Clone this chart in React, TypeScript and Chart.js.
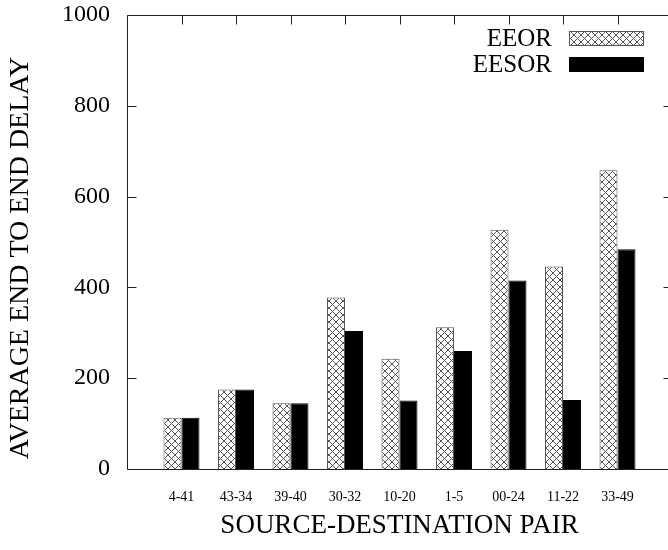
import React, { useEffect, useRef } from "react";
import { Chart, registerables } from "chart.js";

Chart.register(...registerables);

const categories = ["4-41", "43-34", "39-40", "30-32", "10-20", "1-5", "00-24", "11-22", "33-49"];
const eeorValues = [113, 175, 145, 378, 243, 312, 527, 446, 658];
const eesorValues = [113, 175, 145, 304, 151, 260, 415, 152, 484];
const yTicks = [0, 200, 400, 600, 800, 1000];
const seriesNames = ["EEOR", "EESOR"];
const yTitle = "AVERAGE END TO END DELAY";
const xTitle = "SOURCE-DESTINATION PAIR";

const SERIF = "'Liberation Serif', 'DejaVu Serif', serif";

function makeHatch(): CanvasPattern | string {
  const n = 7;
  const c = document.createElement("canvas");
  c.width = n;
  c.height = n;
  const g = c.getContext("2d");
  if (!g) return "#ccc";
  g.fillStyle = "#ffffff";
  g.fillRect(0, 0, n, n);
  g.fillStyle = "#555555";
  for (let i = 0; i < n; i++) {
    g.fillRect(i, i, 1, 1);
    g.fillRect(n - 1 - i, i, 1, 1);
  }
  const p = g.createPattern(c, "repeat");
  return p || "#ccc";
}

export default function App() {
  const ref = useRef<HTMLCanvasElement | null>(null);

  useEffect(() => {
    if (!ref.current) return;
    const hatch = makeHatch();
    const padded = ["", ...categories, ""];
    const pad = (arr: number[]) => [null, ...arr, null];

    const framePlugin = {
      id: "frame",
      afterDatasetsDraw(chart: any) {
        const { ctx, chartArea } = chart;
        const { left, right, top, bottom } = chartArea;
        const ys = chart.scales.y;
        const xs = chart.scales.x;
        ctx.save();
        ctx.strokeStyle = "#222";
        ctx.lineWidth = 1;
        ctx.beginPath();
        const L = Math.round(left) + 0.5;
        const R = Math.round(right) + 0.5;
        const T = Math.round(top) + 0.5;
        const B = Math.round(bottom) + 0.5;
        ctx.rect(L, T, R - L, B - T);
        const tl = 9;
        yTicks.forEach((v) => {
          const y = Math.round(ys.getPixelForValue(v)) + 0.5;
          ctx.moveTo(L, y);
          ctx.lineTo(L + tl, y);
          ctx.moveTo(R, y);
          ctx.lineTo(R - tl, y);
        });
        categories.forEach((_, i) => {
          const x = Math.round(xs.getPixelForValue(i + 1)) + 0.5;
          ctx.moveTo(x, T);
          ctx.lineTo(x, T + tl);
        });
        ctx.stroke();
        ctx.restore();
      },
      afterDraw(chart: any) {
        const { ctx, chartArea } = chart;
        const { right, top, bottom } = chartArea;
        ctx.save();
        // y axis title
        ctx.font = `28px ${SERIF}`;
        ctx.fillStyle = "#000";
        ctx.textAlign = "center";
        ctx.textBaseline = "middle";
        ctx.translate(21, (top + bottom) / 2 + 16);
        ctx.rotate(-Math.PI / 2);
        ctx.fillText(yTitle, 0, 0);
        ctx.restore();

        ctx.save();
        ctx.font = `25px ${SERIF}`;
        ctx.fillStyle = "#000";
        ctx.textAlign = "right";
        ctx.textBaseline = "middle";
        chart.data.datasets.forEach((ds: any, i: number) => {
          const cy = top + 23 + i * 26;
          ctx.fillText(ds.label, right - 120, cy + 1);
          const bx = Math.round(right - 103) + 0.5;
          const by = Math.round(cy - 7) + 0.5;
          ctx.fillStyle = ds.backgroundColor;
          ctx.fillRect(bx, by, 74, 14);
          ctx.strokeStyle = ds.borderColor;
          ctx.lineWidth = 1;
          ctx.strokeRect(bx, by, 74, 14);
          ctx.fillStyle = "#000";
        });
        ctx.restore();
      },
    };

    const chart = new Chart(ref.current, {
      type: "bar",
      data: {
        labels: padded,
        datasets: [
          {
            label: seriesNames[0],
            data: pad(eeorValues) as any,
            backgroundColor: hatch as any,
            borderColor: "#555",
            borderWidth: 1,
            categoryPercentage: 0.66,
            barPercentage: 1,
          },
          {
            label: seriesNames[1],
            data: pad(eesorValues) as any,
            backgroundColor: "#000",
            borderColor: "#000",
            borderWidth: 1,
            categoryPercentage: 0.66,
            barPercentage: 1,
          },
        ],
      },
      options: {
        responsive: false,
        animation: false,
        layout: { padding: { top: 15, right: 28, left: 0, bottom: 0 } },
        plugins: {
          legend: { display: false },
          tooltip: { enabled: false },
        },
        scales: {
          x: {
            type: "category",
            offset: false,
            grid: { display: false, drawTicks: false },
            border: { display: false },
            ticks: {
              autoSkip: false,
              maxRotation: 0,
              padding: 20,
              color: "#000",
              font: { family: SERIF, size: 14 },
            },
            title: {
              display: true,
              text: xTitle,
              color: "#000",
              font: { family: SERIF, size: 27 },
              padding: { top: 0, bottom: 8 },
            },
            afterFit: (s: any) => {
              s.height = 81;
              s.paddingLeft = 0;
              s.paddingRight = 0;
            },
          },
          y: {
            min: 0,
            max: 1000,
            grid: { display: false, drawTicks: false },
            border: { display: false },
            ticks: {
              stepSize: 200,
              padding: 17,
              color: "#000",
              font: { family: SERIF, size: 24 },
              callback: (v: any) => String(v),
            },
            title: { display: false },
            afterFit: (s: any) => {
              s.width = 127;
              s.paddingTop = 0;
              s.paddingBottom = 0;
            },
          },
        },
      },
      plugins: [framePlugin],
    });
    return () => chart.destroy();
  }, []);

  return (
    <div
      style={{
        position: "fixed",
        left: 0,
        top: 0,
        width: 668,
        height: 550,
        overflow: "hidden",
        background: "#fff",
      }}
    >
      <canvas ref={ref} width={700} height={550} style={{ display: "block" }} />
    </div>
  );
}
